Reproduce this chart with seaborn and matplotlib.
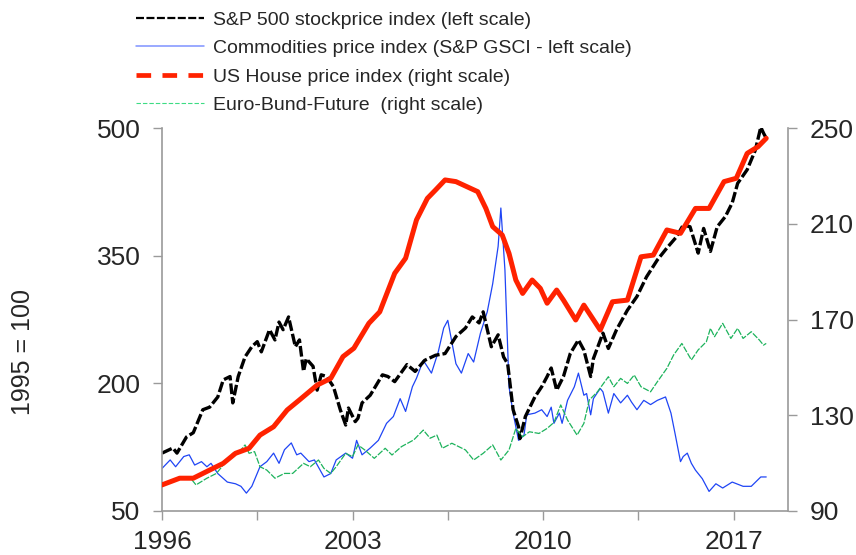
import matplotlib
matplotlib.use("Agg")
import matplotlib.pyplot as plt
from matplotlib.lines import Line2D
from matplotlib.ticker import FixedLocator
import seaborn as sns
import pandas as pd

# -----------------------------
# Data
# -----------------------------
sp500_x = [1996.0, 1996.4, 1996.55, 1996.9, 1997.15, 1997.5, 1997.75, 1998.05, 1998.25, 1998.5,
           1998.6, 1998.8, 1999.05, 1999.3, 1999.5, 1999.65, 1999.95, 2000.15, 2000.3, 2000.45,
           2000.65, 2000.9, 2001.05, 2001.2, 2001.3, 2001.55, 2001.7, 2001.85, 2002.05, 2002.3,
           2002.55, 2002.75, 2002.85, 2003.1, 2003.2, 2003.35, 2003.65, 2004.1, 2004.3, 2004.55,
           2005.0, 2005.3, 2005.65, 2006.05, 2006.4, 2006.8, 2007.15, 2007.4, 2007.65, 2007.8,
           2008.1, 2008.35, 2008.55, 2008.7, 2008.9, 2009.1, 2009.15, 2009.35, 2009.7, 2009.95,
           2010.15, 2010.3, 2010.5, 2010.75, 2011.0, 2011.3, 2011.5, 2011.75, 2011.85, 2012.2,
           2012.4, 2012.7, 2013.1, 2013.45, 2013.8, 2014.2, 2014.55, 2014.9, 2015.15, 2015.4,
           2015.7, 2015.9, 2016.15, 2016.4, 2016.7, 2016.95, 2017.15, 2017.5, 2017.8, 2018.0,
           2018.1, 2018.2]
sp500 = [118, 124, 118, 137, 142, 169, 172, 184, 204, 208,
         177, 208, 231, 243, 249, 237, 263, 251, 272, 263,
         278, 243, 251, 214, 229, 220, 192, 210, 208, 196,
         169, 151, 171, 155, 159, 177, 186, 210, 208, 202,
         222, 214, 227, 233, 235, 255, 265, 278, 271, 284,
         243, 257, 231, 223, 169, 149, 135, 161, 184, 196,
         208, 218, 192, 208, 235, 251, 239, 208, 229, 259,
         241, 263, 286, 302, 325, 345, 359, 372, 386, 384,
         353, 382, 355, 384, 396, 412, 435, 451, 474, 501,
         494, 488]

commod_x = [1996.0, 1996.3, 1996.5, 1996.8, 1997.0, 1997.2, 1997.45, 1997.65, 1997.8, 1998.05,
            1998.4, 1998.7, 1998.9, 1999.1, 1999.3, 1999.6, 1999.85, 2000.1, 2000.3, 2000.5,
            2000.75, 2000.95, 2001.1, 2001.4, 2001.6, 2001.95, 2002.2, 2002.4, 2002.75, 2003.0,
            2003.15, 2003.35, 2003.65, 2003.95, 2004.25, 2004.5, 2004.75, 2004.95, 2005.2, 2005.35,
            2005.6, 2005.9, 2006.15, 2006.35, 2006.5, 2006.8, 2007.0, 2007.25, 2007.45, 2007.7,
            2007.95, 2008.15, 2008.35, 2008.45, 2008.6, 2008.75, 2008.9, 2009.1, 2009.3, 2009.4,
            2009.7, 2009.95, 2010.15, 2010.3, 2010.4, 2010.6, 2010.7, 2010.9, 2011.15, 2011.3,
            2011.5, 2011.6, 2011.75, 2011.85, 2012.1, 2012.2, 2012.4, 2012.6, 2012.85, 2013.1,
            2013.25, 2013.45, 2013.7, 2013.95, 2014.2, 2014.5, 2014.7, 2014.85, 2015.05, 2015.15,
            2015.3, 2015.45, 2015.6, 2015.85, 2016.1, 2016.35, 2016.6, 2016.95, 2017.35, 2017.65,
            2018.0, 2018.2]
commod = [100, 110, 102, 114, 116, 104, 108, 102, 106, 94,
          84, 82, 79, 71, 79, 102, 108, 118, 106, 122,
          130, 116, 118, 108, 110, 90, 94, 110, 118, 112,
          133, 116, 124, 133, 153, 161, 182, 167, 196, 206,
          227, 212, 237, 265, 274, 223, 212, 235, 225, 259,
          284, 317, 361, 406, 333, 196, 165, 133, 139, 163,
          165, 169, 161, 172, 153, 165, 153, 180, 196, 212,
          186, 188, 163, 182, 194, 190, 165, 188, 177, 186,
          178, 169, 180, 175, 180, 184, 165, 141, 108, 114,
          118, 106, 98, 88, 73, 82, 77, 84, 79, 79,
          90, 90]

house_x = [1996.0, 1996.65, 1997.15, 1997.75, 1998.25, 1998.7, 1999.2, 1999.6, 2000.1, 2000.6,
           2001.05, 2001.7, 2002.2, 2002.65, 2003.05, 2003.6, 2004.0, 2004.55, 2004.95, 2005.35,
           2005.75, 2006.05, 2006.4, 2006.8, 2007.2, 2007.6, 2007.9, 2008.15, 2008.5, 2008.75,
           2009.0, 2009.25, 2009.6, 2009.9, 2010.15, 2010.5, 2010.75, 2011.2, 2011.5, 2012.1,
           2012.55, 2013.1, 2013.6, 2014.05, 2014.55, 2015.05, 2015.6, 2016.1, 2016.65, 2017.1,
           2017.5, 2017.9, 2018.2]
house = [100.9, 103.7, 103.7, 107.1, 109.9, 114.1, 116.2, 121.7, 125.2, 132.2,
         136.4, 142.6, 145.4, 154.5, 158.0, 168.4, 173.2, 189.3, 195.6, 211.6,
         220.6, 224.1, 228.3, 227.6, 225.5, 223.4, 216.4, 208.8, 205.3, 197.6,
         186.5, 180.9, 186.5, 183.0, 176.8, 182.3, 178.1, 169.8, 176.0, 165.6,
         177.4, 178.1, 196.2, 196.9, 207.4, 206.0, 216.4, 216.4, 227.6, 229.0,
         239.4, 242.2, 245.7]

bund_x = [1997.1, 1997.25, 1997.65, 1998.0, 1998.3, 1998.6, 1998.85, 1999.05, 1999.2, 1999.4,
          1999.6, 1999.85, 2000.15, 2000.5, 2000.8, 2001.2, 2001.45, 2001.75, 2001.95, 2002.2,
          2002.4, 2002.75, 2003.0, 2003.2, 2003.45, 2003.8, 2004.2, 2004.45, 2004.8, 2005.25,
          2005.6, 2005.85, 2006.1, 2006.3, 2006.65, 2007.15, 2007.45, 2007.8, 2008.15, 2008.45,
          2008.75, 2009.0, 2009.25, 2009.5, 2009.85, 2010.15, 2010.4, 2010.65, 2010.9, 2011.25,
          2011.5, 2011.7, 2012.0, 2012.4, 2012.6, 2012.85, 2013.1, 2013.35, 2013.6, 2013.95,
          2014.2, 2014.55, 2014.8, 2015.1, 2015.45, 2015.7, 2016.0, 2016.15, 2016.3, 2016.6,
          2016.9, 2017.15, 2017.35, 2017.65, 2017.95, 2018.1, 2018.2]
bund = [103.0, 100.9, 103.7, 105.7, 109.9, 114.1, 114.8, 117.6, 114.1, 114.8,
        108.5, 107.1, 103.7, 105.7, 105.7, 109.9, 108.5, 111.3, 107.8, 105.7,
        108.5, 114.1, 112.7, 117.6, 115.5, 112.0, 116.2, 113.4, 116.9, 119.7,
        123.8, 120.4, 121.7, 116.2, 118.3, 115.5, 111.3, 114.1, 117.6, 111.3,
        115.5, 124.5, 121.0, 123.1, 122.4, 124.5, 127.0, 134.3, 128.0, 121.7,
        126.6, 136.4, 139.8, 146.1, 141.9, 145.4, 143.3, 146.8, 141.9, 139.8,
        144.0, 149.6, 155.2, 160.0, 153.1, 157.3, 160.7, 166.3, 162.8, 168.4,
        162.1, 166.3, 162.1, 164.9, 161.4, 159.3, 160.0]

labels = ["S&P 500 stockprice index (left scale)",
          "Commodities price index (S&P GSCI - left scale)",
          "US House price index (right scale)",
          "Euro-Bund-Future  (right scale)"]

year_ticks = [1996, 2003, 2010, 2017]
left_ticks = [50, 200, 350, 500]
right_ticks = [90, 130, 170, 210, 250]

# -----------------------------
# Style
# -----------------------------
sns.set_style("white")
plt.rcParams["font.family"] = ["Liberation Sans", "DejaVu Sans"]

BLACK = "#000000"
BLUE = "#1f45f5"
RED = "#ff2200"
GREEN = "#1db35c"
GREY = "#9a9a9a"

fig = plt.figure(figsize=(8.56, 5.55), dpi=100)
ax = fig.add_axes([162 / 856, 44 / 555, 626 / 856, 383 / 555])
ax2 = ax.twinx()

# -----------------------------
# Lines
# -----------------------------
sns.lineplot(x=commod_x, y=commod, ax=ax, color=BLUE, linewidth=0.9)
sns.lineplot(x=sp500_x, y=sp500, ax=ax, color=BLACK, linewidth=2.4)
ax.lines[-1].set_dashes((3.2, 0.9))

sns.lineplot(x=bund_x, y=bund, ax=ax2, color=GREEN, linewidth=0.9)
ax2.lines[-1].set_dashes((5, 1.2))
sns.lineplot(x=house_x, y=house, ax=ax2, color=RED, linewidth=3.6)

# -----------------------------
# Axes
# -----------------------------
ax.set_xlim(1996, 2019)
ax.set_ylim(50, 500)
ax2.set_ylim(90, 250)

ax.xaxis.set_major_locator(FixedLocator(year_ticks))
ax.xaxis.set_minor_locator(FixedLocator([1999.5, 2006.5, 2013.5]))
ax.set_xticklabels([str(y) for y in year_ticks])
ax.set_yticks(left_ticks)
ax2.set_yticks(right_ticks)

ax.tick_params(axis="both", which="both", direction="out", length=6.5, width=1,
               color=GREY, labelsize=19, bottom=True, left=True)
ax.tick_params(axis="y", pad=9)
ax.tick_params(axis="x", pad=7)
ax2.tick_params(axis="y", direction="out", length=6.5, width=1, color=GREY,
                labelsize=19, pad=9, right=True)

for side in ["left", "bottom"]:
    ax.spines[side].set_color(GREY)
    ax.spines[side].set_linewidth(1.2)
ax.spines["top"].set_visible(False)
ax.spines["right"].set_visible(False)
for side in ["left", "bottom", "top"]:
    ax2.spines[side].set_visible(False)
ax2.spines["right"].set_color(GREY)
ax2.spines["right"].set_linewidth(1.2)

ax.set_ylabel("")
ax.set_xlabel("")
ax2.set_ylabel("")
fig.text(23 / 856, 1 - 352 / 555, "1995 = 100", rotation=90, fontsize=18,
         ha="center", va="center")

# -----------------------------
# Legend (above the plot)
# -----------------------------
handles = [
    Line2D([], [], color=BLACK, linewidth=1.6, dashes=(3.6, 1.1)),
    Line2D([], [], color="#7f92ff", linewidth=1.1),
    Line2D([], [], color=RED, linewidth=3.4, dashes=(3.1, 2.4)),
    Line2D([], [], color="#3ddc84", linewidth=0.8, dashes=(4, 1.8)),
]
fig.legend(handles, labels, loc="upper left", bbox_to_anchor=(136 / 856, 1 - 11 / 555),
           frameon=False, fontsize=14, handlelength=3.5, handletextpad=0.45,
           labelspacing=0.56, borderpad=0, borderaxespad=0)

fig.savefig("out.png", dpi=100)
plt.close(fig)
